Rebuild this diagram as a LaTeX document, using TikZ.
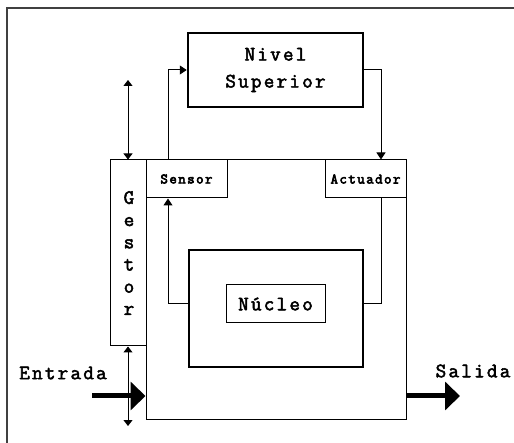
\documentclass[tikz,border=0pt]{standalone}
\usepackage{fontspec}
\newfontfamily\courbig[LetterSpace=11, FakeBold=2.5]{Latin Modern Mono}
\newfontfamily\coursmall[LetterSpace=10, FakeBold=4]{Latin Modern Mono}
\usetikzlibrary{arrows.meta}
\begin{document}
\begin{tikzpicture}[x=1pt,y=-1pt,
  thinbox/.style={draw, line width=1pt, inner sep=0pt, fill=white},
  thickbox/.style={draw, line width=2.5pt, inner sep=0pt},
  bigtxt/.style={font=\courbig\fontsize{20.5}{27}\selectfont},
  smalltxt/.style={font=\coursmall\fontsize{14.5}{16}\selectfont},
  arr/.style={line width=1pt, -{Triangle[length=7pt,width=9pt]}},
  plain/.style={line width=1pt},
  dbl/.style={line width=1pt, {Triangle[length=6pt,width=9pt]}-{Triangle[length=6pt,width=9pt]}},
  big/.style={line width=5pt, -{Triangle[length=15pt,width=28pt]}}]
\useasboundingbox (0,0) rectangle (514,443);
\draw[line width=1.3pt, black!75] (7,443) -- (7,8) -- (514,8);
% boxes
\node[thinbox, minimum width=260pt, minimum height=259pt] (main) at (276,289.5) {};
\node[thinbox, minimum width=36pt, minimum height=186pt] (gestor) at (128,253) {};
\node[align=center, font=\courbig\fontsize{20.5}{22.2}\selectfont] (gtext) at (129,253) {G\\e\\s\\t\\o\\r};
\node[thinbox, minimum width=81pt, minimum height=38pt, smalltxt] (sensor) at (186.5,179) {Sensor};
\node[thinbox, minimum width=81pt, minimum height=38pt, smalltxt] (actuador) at (365.5,179) {Actuador};
\node[thickbox, minimum width=175pt, minimum height=74pt, bigtxt, align=center] (nivel) at (275.5,70) {Nivel\\Superior};
\node[thickbox, minimum width=174pt, minimum height=117pt] (nout) at (276,308.5) {};
\node[thinbox, minimum width=99pt, minimum height=38pt, bigtxt] (nin) at (275.5,304) {Núcleo};
% helper coordinates
\coordinate (s1) at (168,0);
\coordinate (a1) at (381,0);
\coordinate (g1) at (128,80);
\coordinate (g2) at (128,426);
\coordinate (e1) at (92,396);
\coordinate (s2) at (460,396);
% connectors
\draw[arr] (sensor.north -| s1) |- (nivel.west);
\draw[arr] (nivel.east) -| (actuador.north -| a1);
\draw[arr] (nout.west |- nin.center) -| (sensor.south -| s1);
\draw[plain] (nout.east |- nin.center) -| (actuador.south -| a1);
\draw[dbl] (g1) -- (gestor.north);
\draw[big] (e1) -- (main.west |- e1);
\draw[dbl] (gestor.south) -- (g2);
\draw[big] (main.east |- e1) -- (s2);
% labels
\node[bigtxt] (entrada) at (63,373) {Entrada};
\node[bigtxt] (salida) at (473,371) {Salida};
\end{tikzpicture}
\end{document}
